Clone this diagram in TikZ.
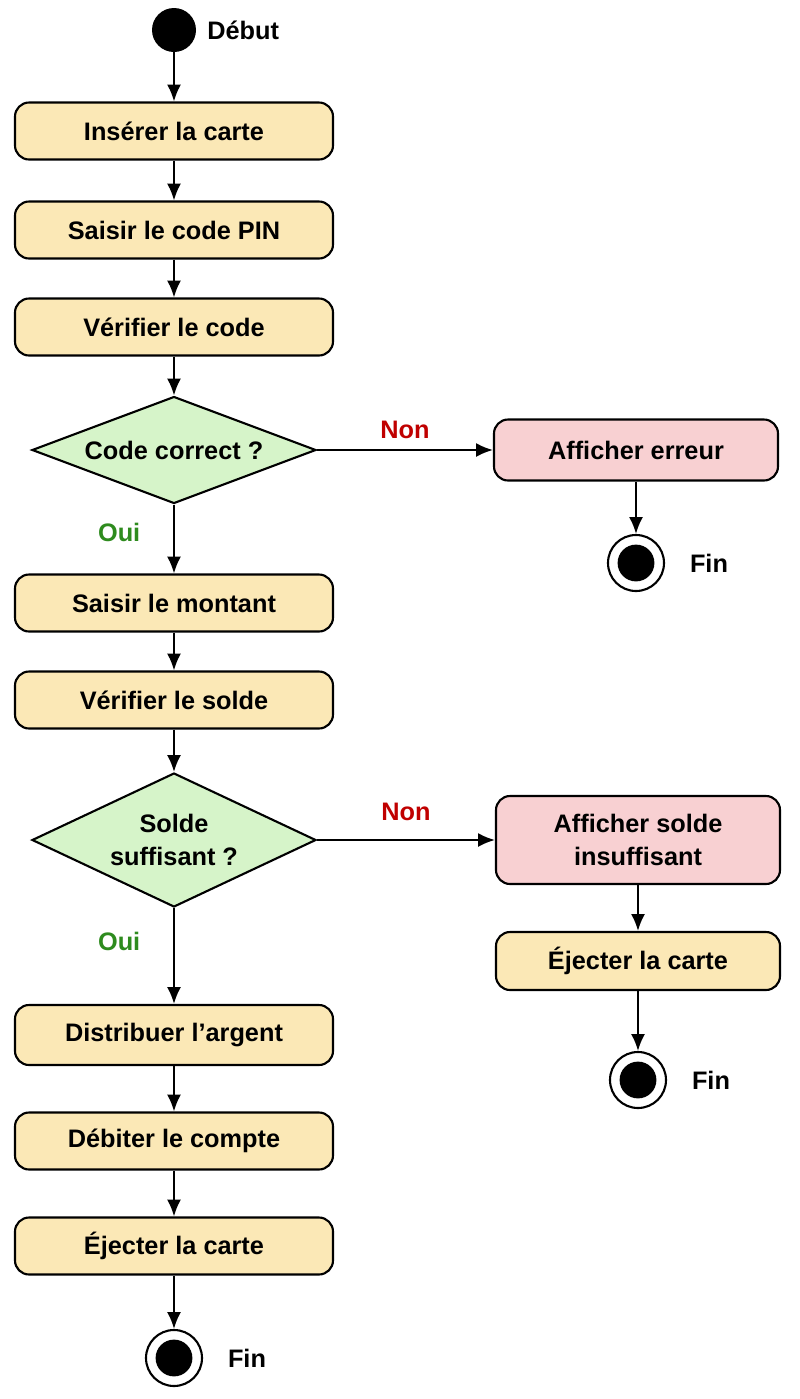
\documentclass[tikz,border=0pt]{standalone}
\usepackage{fontspec}
\setmainfont{Liberation Sans}
\usetikzlibrary{shapes.geometric,arrows.meta,positioning}

\definecolor{actfill}{HTML}{FBE8B6}
\definecolor{errfill}{HTML}{F8D0D2}
\definecolor{decfill}{HTML}{D6F4C9}
\definecolor{nonred}{HTML}{C00000}
\definecolor{ouigreen}{HTML}{2E8B1E}

\tikzset{
  txt/.style={font=\bfseries\fontsize{18}{23}\selectfont},
  action/.style={txt, draw, line width=1.5pt, rounded corners=10pt, fill=actfill,
    minimum width=7.95cm, minimum height=1.425cm, align=center},
  erraction/.style={action, fill=errfill, minimum width=7.1cm},
  decision/.style={txt, draw, line width=1.5pt, diamond, fill=decfill, inner sep=0pt,
    minimum width=7.1cm, align=center},
  startnode/.style={circle, fill=black, minimum size=1.1cm, inner sep=0pt},
  endnode/.style={circle, draw, line width=1.5pt, fill=white, minimum size=1.4cm, inner sep=0pt,
    path picture={\fill[black] (path picture bounding box.center) circle (0.46cm);}},
  flow/.style={line width=1.5pt, -{Latex[length=12pt,width=10pt]}},
  nonlbl/.style={txt, text=nonred},
  ouilbl/.style={txt, text=ouigreen}
}

\begin{document}
\begin{tikzpicture}

\fill[white] (0,0) rectangle (20,-34.975); % background
\useasboundingbox (0,0) rectangle (20,-34.975);

% Main column
\node[startnode] (start) at (4.35,-0.75) {}; % Start
\node[txt, right=0.15cm of start] (startlbl) {Début};
\node[action] (insert) at (4.35,-3.275) {Insérer la carte};
\node[action] (pin) at (4.35,-5.75) {Saisir le code PIN};
\node[action] (checkcode) at (4.35,-8.175) {Vérifier le code};
\node[decision, minimum height=2.675cm, aspect=2.65] (codeok) at (4.35,-11.25) {Code correct ?};
\node[action] (amount) at (4.35,-15.075) {Saisir le montant};
\node[action] (checkbal) at (4.35,-17.5) {Vérifier le solde};
\node[decision, minimum height=3.35cm, aspect=2.12] (balok) at (4.35,-21.0) {Solde\\suffisant ?};
\node[action, minimum height=1.5cm] (cash) at (4.35,-25.875) {Distribuer l’argent};
\node[action] (debit) at (4.35,-28.525) {Débiter le compte};
\node[action] (eject) at (4.35,-31.15) {Éjecter la carte};
\node[endnode] (end) at (4.35,-33.95) {}; % Final end
\node[txt, right=0.5cm of end] (endlbl) {Fin};

% Right branch: wrong code
\node[erraction, minimum height=1.525cm] (error) at (15.9,-11.25) {Afficher erreur};
\node[endnode] (enderr) at (15.9,-14.075) {};
\node[txt, right=0.5cm of enderr] (enderrlbl) {Fin};

% Right branch: low balance
\node[erraction, minimum height=2.2cm] (lowbal) at (15.95,-21.0) {Afficher solde\\insuffisant};
\node[action, minimum width=7.1cm, minimum height=1.45cm] (eject2) at (15.95,-24.025) {Éjecter la carte};
\node[endnode] (endbal) at (15.95,-27.0) {};
\node[txt, right=0.5cm of endbal] (endballbl) {Fin};

% Flows
\draw[flow] (start) -- (insert);
\draw[flow] (insert) -- (pin);
\draw[flow] (pin) -- (checkcode);
\draw[flow] (checkcode) -- (codeok);
\draw[flow] (codeok) -- node[ouilbl, left=0.7cm, pos=0.4] {Oui} (amount);
\draw[flow] (codeok) -- node[nonlbl, above=0.15cm] {Non} (error);
\draw[flow] (error) -- (enderr);
\draw[flow] (amount) -- (checkbal);
\draw[flow] (checkbal) -- (balok);
\draw[flow] (balok) -- node[ouilbl, left=0.7cm, pos=0.35] {Oui} (cash);
\draw[flow] (balok) -- node[nonlbl, above=0.35cm] {Non} (lowbal);
\draw[flow] (lowbal) -- (eject2);
\draw[flow] (eject2) -- (endbal);
\draw[flow] (cash) -- (debit);
\draw[flow] (debit) -- (eject);
\draw[flow] (eject) -- (end);

\end{tikzpicture}
\end{document}
